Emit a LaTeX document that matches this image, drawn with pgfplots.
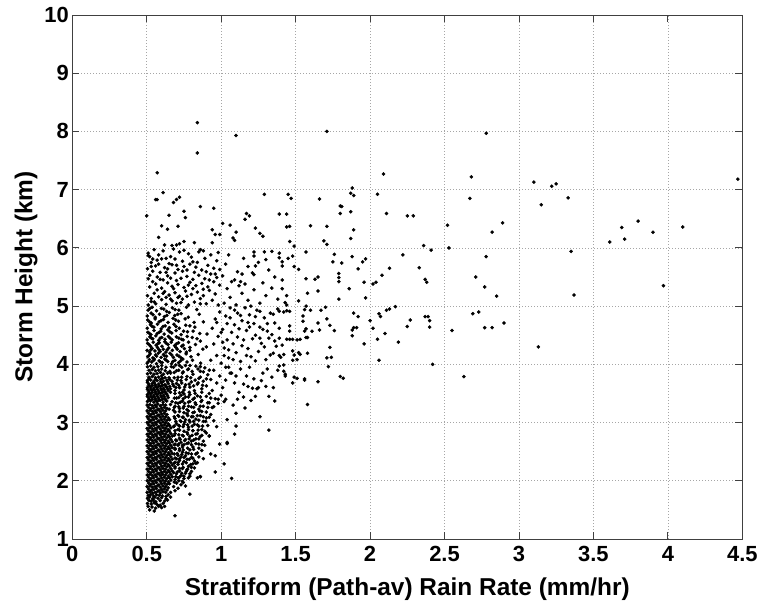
\documentclass[border=0pt]{standalone}
\usepackage{fontspec}
\setmainfont{Liberation Sans}
\usepackage{pgfplots}
\pgfplotsset{compat=1.18}
\begin{document}
\begin{tikzpicture}
\path[use as bounding box] (-72.3bp,-62bp) rectangle (685.7bp,539bp);
\begin{axis}[
  at={(0,0)}, anchor=south west,
  scale only axis, width=670bp, height=524bp,
  xmin=0, xmax=4.5, ymin=1, ymax=10,
  xtick={0,0.5,1,1.5,2,2.5,3,3.5,4,4.5}, ytick={1,2,3,4,5,6,7,8,9,10},
  /pgf/number format/assume math mode=true,
  ticklabel style={font=\fontsize{22}{24}\selectfont\bfseries},
  xticklabel style={yshift=-4bp},
  label style={font=\fontsize{24.5}{27}\selectfont\bfseries},
  xlabel={Stratiform (Path-av) Rain Rate (mm/hr)},
  ylabel={Storm Height (km)},
  xlabel style={yshift=-9bp},
  tick align=inside, major tick length=7bp,
  axis line style={black!75, line width=0.9bp},
  tick style={black!75, line width=0.9bp},
  grid=major,
  major grid style={gray!70, line width=0.7bp, dash pattern=on 0.8bp off 2.2bp},
]
\addplot[only marks, mark=*, mark size=1.6bp, mark options={fill=black, draw=none}] coordinates {
(0.503,1.80)(0.521,1.81)(0.538,1.79)(0.556,1.80)(0.574,1.82)(0.591,1.79)(0.609,1.81)(0.627,1.80)
(0.512,1.86)(0.529,1.84)(0.547,1.85)(0.565,1.87)(0.582,1.83)(0.600,1.85)(0.618,1.86)(0.636,1.84)
(0.503,1.90)(0.521,1.91)(0.538,1.89)(0.556,1.90)(0.574,1.92)(0.591,1.89)(0.609,1.91)(0.627,1.90)(0.645,1.88)
(0.512,1.96)(0.529,1.94)(0.547,1.95)(0.565,1.97)(0.582,1.93)(0.600,1.95)(0.618,1.96)(0.636,1.94)(0.653,1.95)
(0.503,2.00)(0.521,2.01)(0.538,1.99)(0.556,2.00)(0.574,2.02)(0.591,1.99)(0.609,2.01)(0.627,2.00)(0.645,1.98)(0.662,2.01)
(0.512,2.06)(0.529,2.04)(0.547,2.05)(0.565,2.07)(0.582,2.03)(0.600,2.05)(0.618,2.06)(0.636,2.04)(0.653,2.05)(0.671,2.07)
(0.503,2.10)(0.521,2.11)(0.538,2.09)(0.556,2.10)(0.574,2.12)(0.591,2.09)(0.609,2.11)(0.627,2.10)(0.645,2.08)(0.662,2.11)
(0.512,2.16)(0.529,2.14)(0.547,2.15)(0.565,2.17)(0.582,2.13)(0.600,2.15)(0.618,2.16)(0.636,2.14)(0.653,2.15)(0.671,2.17)
(0.503,2.20)(0.521,2.21)(0.538,2.19)(0.556,2.20)(0.574,2.22)(0.591,2.19)(0.609,2.21)(0.627,2.20)(0.645,2.18)(0.662,2.21)
(0.512,2.26)(0.529,2.24)(0.547,2.25)(0.565,2.27)(0.582,2.23)(0.600,2.25)(0.618,2.26)(0.636,2.24)(0.653,2.25)(0.671,2.27)
(0.503,2.30)(0.521,2.31)(0.538,2.29)(0.556,2.30)(0.574,2.32)(0.591,2.29)(0.609,2.31)(0.627,2.30)(0.645,2.28)(0.662,2.31)
(0.512,2.36)(0.529,2.34)(0.547,2.35)(0.565,2.37)(0.582,2.33)(0.600,2.35)(0.618,2.36)(0.636,2.34)(0.653,2.35)(0.671,2.37)
(0.503,2.40)(0.521,2.41)(0.538,2.39)(0.556,2.40)(0.574,2.42)(0.591,2.39)(0.609,2.41)(0.627,2.40)(0.645,2.38)(0.662,2.41)
(0.512,2.46)(0.529,2.44)(0.547,2.45)(0.565,2.47)(0.582,2.43)(0.600,2.45)(0.618,2.46)(0.636,2.44)(0.653,2.45)(0.671,2.47)
(0.503,2.50)(0.521,2.51)(0.538,2.49)(0.556,2.50)(0.574,2.52)(0.591,2.49)(0.609,2.51)(0.627,2.50)(0.645,2.48)(0.662,2.51)
(0.512,2.56)(0.529,2.54)(0.547,2.55)(0.565,2.57)(0.582,2.53)(0.600,2.55)(0.618,2.56)(0.636,2.54)(0.653,2.55)(0.671,2.57)
(0.503,2.60)(0.521,2.61)(0.538,2.59)(0.556,2.60)(0.574,2.62)(0.591,2.59)(0.609,2.61)(0.627,2.60)(0.645,2.58)(0.662,2.61)
(0.512,2.66)(0.529,2.64)(0.547,2.65)(0.565,2.67)(0.582,2.63)(0.600,2.65)(0.618,2.66)(0.636,2.64)(0.653,2.65)(0.671,2.67)
(0.503,2.70)(0.521,2.71)(0.538,2.69)(0.556,2.70)(0.574,2.72)(0.591,2.69)(0.609,2.71)(0.627,2.70)(0.645,2.68)(0.662,2.71)
(0.512,2.76)(0.529,2.74)(0.547,2.75)(0.565,2.77)(0.582,2.73)(0.600,2.75)(0.618,2.76)(0.636,2.74)(0.653,2.75)(0.671,2.77)
(0.503,2.80)(0.521,2.81)(0.538,2.79)(0.556,2.80)(0.574,2.82)(0.591,2.79)(0.609,2.81)(0.627,2.80)(0.645,2.78)(0.662,2.81)
(0.512,2.86)(0.529,2.84)(0.547,2.85)(0.565,2.87)(0.582,2.83)(0.600,2.85)(0.618,2.86)(0.636,2.84)(0.653,2.85)
(0.503,2.90)(0.521,2.91)(0.538,2.89)(0.556,2.90)(0.574,2.92)(0.591,2.89)(0.609,2.91)(0.627,2.90)(0.645,2.88)(0.662,2.91)
(0.512,2.96)(0.529,2.94)(0.547,2.95)(0.565,2.97)(0.582,2.93)(0.600,2.95)(0.618,2.96)(0.636,2.94)(0.653,2.95)
(0.503,3.00)(0.521,3.01)(0.538,2.99)(0.556,3.00)(0.574,3.02)(0.591,2.99)(0.609,3.01)(0.627,3.00)(0.645,2.98)
(0.512,3.06)(0.529,3.04)(0.547,3.05)(0.565,3.07)(0.582,3.03)(0.600,3.05)(0.618,3.06)(0.636,3.04)(0.653,3.05)
(0.503,3.10)(0.521,3.11)(0.538,3.09)(0.556,3.10)(0.574,3.12)(0.591,3.09)(0.609,3.11)(0.627,3.10)(0.645,3.08)
(0.512,3.16)(0.529,3.14)(0.547,3.15)(0.565,3.17)(0.582,3.13)(0.600,3.15)(0.618,3.16)(0.636,3.14)
(0.503,3.20)(0.521,3.21)(0.538,3.19)(0.556,3.20)(0.574,3.22)(0.591,3.19)(0.609,3.21)(0.627,3.20)
(0.512,3.26)(0.529,3.24)(0.547,3.25)(0.565,3.27)(0.582,3.23)(0.600,3.25)(0.618,3.26)(0.636,3.24)
(0.503,3.30)(0.521,3.31)(0.538,3.29)(0.556,3.30)(0.574,3.32)(0.591,3.29)(0.609,3.31)(0.627,3.30)
(0.52,1.50)(0.55,1.48)(0.56,1.53)(0.51,1.56)(0.535,1.55)(0.58,1.56)(0.60,1.54)(0.505,1.61)(0.53,1.60)(0.55,1.62)
(0.57,1.59)(0.61,1.61)(0.515,1.66)(0.53,1.65)(0.545,1.67)(0.56,1.64)(0.59,1.66)(0.62,1.65)(0.64,1.67)(0.505,1.70)
(0.52,1.72)(0.54,1.69)(0.555,1.72)(0.575,1.70)(0.60,1.71)(0.63,1.69)(0.51,1.75)(0.525,1.76)(0.545,1.74)(0.565,1.76)
(0.585,1.75)(0.605,1.74)(0.645,1.76)(0.66,1.72)(0.56,1.62)(0.59,1.58)(0.62,1.56)(0.63,1.73)
(0.66,1.80)(0.69,1.83)(0.68,1.90)(0.71,1.87)(0.70,1.96)(0.73,1.93)(0.74,1.99)(0.76,1.91)
(0.69,2.02)(0.71,2.05)(0.70,2.12)(0.73,2.09)(0.72,2.17)(0.75,2.04)(0.76,2.13)(0.74,2.21)(0.77,2.19)(0.79,2.08)
(0.80,2.16)(0.78,2.25)(0.69,2.24)(0.71,2.28)(0.82,2.22)(0.84,2.05)(0.81,2.29)(0.86,2.07)
(0.69,2.32)(0.70,2.38)(0.72,2.35)(0.71,2.44)(0.73,2.41)(0.74,2.49)(0.75,2.33)(0.76,2.43)(0.77,2.37)(0.78,2.47)
(0.79,2.53)(0.72,2.52)(0.69,2.56)(0.74,2.58)(0.80,2.40)(0.82,2.34)(0.83,2.46)(0.81,2.58)(0.85,2.41)(0.87,2.52)
(0.84,2.31)(0.88,2.38)
(0.69,2.63)(0.71,2.61)(0.70,2.69)(0.72,2.73)(0.73,2.66)(0.74,2.78)(0.75,2.62)(0.76,2.71)(0.77,2.83)(0.78,2.65)
(0.79,2.76)(0.80,2.68)(0.81,2.86)(0.69,2.81)(0.71,2.88)(0.83,2.72)(0.85,2.63)(0.84,2.81)(0.86,2.76)(0.88,2.68)
(0.90,2.82)(0.87,2.88)(0.92,2.77)(0.89,2.61)
(0.68,2.93)(0.70,2.98)(0.69,3.07)(0.72,2.94)(0.73,3.02)(0.71,3.12)(0.74,3.09)(0.75,2.97)(0.76,3.05)(0.77,3.15)
(0.78,2.92)(0.79,3.01)(0.80,3.10)(0.82,2.97)(0.83,3.06)(0.81,3.17)(0.85,2.94)(0.86,3.12)(0.88,3.02)(0.87,3.19)
(0.90,3.08)(0.91,2.95)(0.93,3.14)(0.95,3.03)(0.97,2.93)
(0.65,3.23)(0.66,3.31)(0.68,3.21)(0.67,3.36)(0.69,3.28)(0.70,3.42)(0.71,3.33)(0.72,3.24)(0.73,3.47)(0.74,3.37)
(0.75,3.28)(0.76,3.44)(0.77,3.22)(0.78,3.35)(0.79,3.48)(0.80,3.27)(0.81,3.40)(0.83,3.31)(0.84,3.46)(0.85,3.23)
(0.87,3.38)(0.88,3.28)(0.90,3.45)(0.92,3.34)(0.94,3.26)(0.96,3.41)(0.98,3.33)(1.00,3.47)(1.02,3.36)
(0.685,1.98)(0.715,2.00)(0.745,1.97)
(0.695,2.07)(0.72,2.06)(0.75,2.08)(0.78,2.05)
(0.68,2.14)(0.705,2.15)(0.735,2.13)(0.765,2.16)(0.79,2.12)
(0.69,2.22)(0.72,2.21)(0.745,2.23)(0.775,2.20)(0.80,2.23)
(0.685,2.30)(0.71,2.31)(0.74,2.29)(0.765,2.31)(0.795,2.28)(0.83,2.30)
(0.69,2.39)(0.72,2.38)(0.75,2.40)(0.785,2.37)(0.81,2.39)
(0.685,2.46)(0.705,2.47)(0.735,2.45)(0.765,2.48)(0.80,2.46)(0.84,2.48)
(0.69,2.54)(0.72,2.55)(0.745,2.53)(0.775,2.56)(0.815,2.54)(0.85,2.56)
(0.685,2.62)(0.715,2.63)(0.74,2.61)(0.77,2.64)(0.80,2.62)(0.83,2.64)(0.87,2.62)
(0.695,2.70)(0.725,2.71)(0.755,2.69)(0.785,2.72)(0.815,2.70)(0.85,2.72)
(0.685,2.78)(0.715,2.79)(0.745,2.77)(0.775,2.80)(0.805,2.78)(0.83,2.80)(0.87,2.78)
(0.69,2.86)(0.72,2.87)(0.75,2.85)(0.78,2.88)(0.81,2.86)(0.845,2.87)(0.89,2.85)
(0.685,2.94)(0.715,2.95)(0.745,2.93)(0.775,2.96)(0.805,2.94)(0.84,2.96)(0.875,2.94)
(0.695,3.02)(0.725,3.03)(0.755,3.01)(0.785,3.04)(0.815,3.02)(0.85,3.04)(0.895,3.02)
(0.685,3.10)(0.715,3.11)(0.745,3.09)(0.775,3.12)(0.81,3.10)(0.84,3.12)(0.88,3.10)(0.92,3.09)
(0.69,3.18)(0.72,3.19)(0.75,3.17)(0.78,3.20)(0.82,3.18)(0.855,3.20)(0.90,3.18)
(0.685,3.26)(0.715,3.27)(0.745,3.25)(0.78,3.28)(0.815,3.26)(0.86,3.28)(0.91,3.26)(0.95,3.27)
(0.695,3.34)(0.725,3.35)(0.755,3.33)(0.79,3.36)(0.825,3.34)(0.865,3.36)(0.91,3.34)
(0.685,3.42)(0.715,3.43)(0.745,3.41)(0.78,3.44)(0.82,3.42)(0.86,3.44)(0.93,3.42)(0.98,3.40)
(0.69,3.50)(0.72,3.51)(0.75,3.49)(0.785,3.52)(0.825,3.50)(0.87,3.52)(0.92,3.50)
(0.505,3.36)(0.525,3.37)(0.548,3.35)(0.57,3.36)(0.59,3.38)(0.61,3.35)(0.635,3.37)
(0.515,3.42)(0.537,3.43)(0.558,3.41)(0.58,3.42)(0.60,3.44)(0.622,3.41)(0.645,3.43)
(0.505,3.48)(0.527,3.49)(0.548,3.47)(0.57,3.48)(0.592,3.50)(0.613,3.47)(0.635,3.49)
(0.515,3.54)(0.537,3.55)(0.558,3.53)(0.58,3.54)(0.60,3.56)(0.622,3.53)(0.645,3.55)(0.66,3.52)
(0.505,3.60)(0.527,3.61)(0.548,3.59)(0.57,3.60)(0.592,3.62)(0.613,3.59)(0.635,3.61)
(0.515,3.66)(0.537,3.67)(0.558,3.65)(0.58,3.66)(0.60,3.68)(0.622,3.65)(0.645,3.67)
(0.505,3.72)(0.527,3.73)(0.548,3.71)(0.57,3.72)(0.592,3.74)(0.613,3.71)(0.635,3.73)
(0.515,3.78)(0.537,3.79)(0.558,3.77)(0.58,3.78)(0.60,3.80)(0.622,3.77)
(0.505,3.84)(0.527,3.85)(0.548,3.83)(0.57,3.84)(0.592,3.86)(0.613,3.83)(0.64,3.85)
(0.515,3.90)(0.537,3.91)(0.558,3.89)(0.58,3.90)(0.60,3.92)(0.625,3.89)
(0.505,3.96)(0.527,3.97)(0.548,3.95)(0.575,3.96)(0.60,3.98)(0.63,3.95)
(0.515,3.39)(0.537,3.395)(0.56,3.385)(0.582,3.39)(0.605,3.40)(0.628,3.385)
(0.505,3.45)(0.527,3.455)(0.55,3.445)(0.572,3.45)(0.595,3.46)(0.617,3.445)(0.64,3.46)
(0.515,3.51)(0.537,3.515)(0.56,3.505)(0.582,3.51)(0.605,3.52)(0.628,3.505)
(0.505,3.57)(0.527,3.575)(0.55,3.565)(0.572,3.57)(0.595,3.58)(0.617,3.565)(0.64,3.58)
(0.515,3.63)(0.537,3.635)(0.56,3.625)(0.582,3.63)(0.605,3.64)(0.628,3.625)
(0.505,3.69)(0.55,3.685)(0.595,3.70)(0.64,3.70)
(0.515,3.75)(0.56,3.745)(0.605,3.76)
(0.66,3.58)(0.68,3.63)(0.67,3.71)(0.69,3.55)(0.70,3.67)(0.71,3.78)(0.72,3.60)(0.73,3.72)(0.74,3.85)(0.75,3.56)
(0.76,3.65)(0.77,3.79)(0.78,3.92)(0.79,3.61)(0.80,3.70)(0.81,3.83)(0.82,3.55)(0.83,3.97)(0.84,3.66)(0.85,3.76)
(0.86,3.88)(0.87,3.58)(0.88,3.71)(0.89,3.94)(0.90,3.63)(0.91,3.82)(0.93,3.74)(0.94,3.55)(0.95,3.90)(0.97,3.68)
(0.99,3.80)(1.01,3.60)(1.03,3.73)(1.05,3.95)(1.07,3.85)(0.66,3.85)(0.68,3.95)(0.70,3.89)(0.72,3.98)(0.65,3.77)
(0.74,3.52)(0.76,3.98)
(0.655,3.62)(0.675,3.66)(0.695,3.60)(0.715,3.64)(0.735,3.68)(0.755,3.61)(0.785,3.66)(0.815,3.63)(0.845,3.68)(0.875,3.64)
(0.655,3.74)(0.685,3.77)(0.705,3.73)(0.735,3.78)(0.765,3.74)(0.795,3.77)(0.825,3.73)(0.86,3.78)(0.90,3.75)
(0.655,3.88)(0.685,3.86)(0.715,3.90)(0.745,3.87)(0.775,3.91)(0.805,3.88)(0.845,3.92)(0.88,3.87)(0.92,3.90)
(0.665,3.96)(0.695,3.99)(0.735,3.95)(0.79,3.98)(0.86,3.96)
(1.04,3.05)(1.08,3.30)(1.12,3.52)(1.15,3.44)(1.18,3.62)(1.20,3.38)(1.22,3.75)(1.24,3.58)(1.28,3.85)
(1.30,3.62)(1.32,3.45)(1.34,3.78)(1.38,3.90)(1.32,2.87)(1.13,3.92)(1.17,3.80)(1.21,3.59)(1.25,3.60)(1.09,3.68)
(1.06,3.85)(1.03,3.40)
(1.01,4.38)(1.05,4.25)(1.08,4.08)(1.11,4.47)(1.14,4.32)(1.17,4.15)(1.19,4.64)(1.23,4.06)(1.26,4.45)(1.29,4.30)
(1.33,4.16)(1.36,4.40)(1.02,4.15)(1.06,4.80)(1.09,4.93)(1.13,4.84)(1.18,4.72)(1.23,4.82)(1.31,4.70)(1.35,4.86)
(1.03,3.95)(1.10,3.80)(1.15,3.66)(1.19,3.95)(1.27,3.72)(1.31,3.92)(1.35,3.60)(1.11,3.40)(1.23,3.45)(1.16,3.25)
(0.503,4.02)(0.518,4.08)(0.534,4.04)(0.551,4.09)(0.566,4.01)(0.583,4.06)(0.604,4.03)(0.622,4.09)(0.641,4.05)(0.667,4.01)
(0.689,4.07)(0.714,4.03)(0.742,4.09)(0.771,4.04)(0.808,4.07)(0.862,4.02)
(0.507,4.13)(0.523,4.18)(0.541,4.11)(0.559,4.16)(0.577,4.19)(0.596,4.12)(0.613,4.17)(0.633,4.14)(0.656,4.19)(0.679,4.12)
(0.703,4.16)(0.731,4.11)(0.764,4.18)(0.797,4.13)(0.846,4.17)
(0.502,4.24)(0.519,4.21)(0.537,4.27)(0.555,4.23)(0.572,4.29)(0.591,4.22)(0.611,4.26)(0.629,4.21)(0.648,4.28)(0.672,4.24)
(0.696,4.29)(0.724,4.22)(0.753,4.27)(0.789,4.24)(0.877,4.26)
(0.506,4.36)(0.526,4.31)(0.544,4.38)(0.563,4.33)(0.584,4.37)(0.602,4.31)(0.621,4.39)(0.643,4.34)(0.664,4.38)(0.687,4.32)
(0.713,4.37)(0.745,4.33)(0.781,4.38)(0.827,4.34)
(0.503,4.42)(0.521,4.47)(0.54,4.44)(0.561,4.49)(0.58,4.41)(0.601,4.46)(0.623,4.43)(0.646,4.48)(0.671,4.42)(0.699,4.47)
(0.734,4.43)(0.772,4.48)(0.838,4.44)
(0.508,4.55)(0.528,4.51)(0.549,4.58)(0.571,4.53)(0.594,4.57)(0.617,4.52)(0.642,4.59)(0.668,4.54)(0.697,4.58)(0.731,4.51)
(0.774,4.56)(0.856,4.53)
(0.504,4.62)(0.525,4.68)(0.548,4.64)(0.572,4.69)(0.597,4.61)(0.624,4.66)(0.652,4.63)(0.683,4.69)(0.718,4.62)(0.762,4.67)
(0.823,4.64)
(0.507,4.76)(0.531,4.71)(0.556,4.78)(0.584,4.73)(0.612,4.77)(0.643,4.72)(0.677,4.79)(0.714,4.74)(0.758,4.78)(0.818,4.72)
(0.503,4.83)(0.529,4.88)(0.557,4.81)(0.586,4.86)(0.618,4.82)(0.651,4.89)(0.688,4.84)(0.731,4.87)(0.779,4.81)(0.852,4.86)
(0.509,4.93)(0.536,4.98)(0.566,4.92)(0.598,4.96)(0.633,4.91)(0.672,4.97)(0.716,4.93)(0.767,4.98)(0.836,4.94)
(0.512,4.05)(0.547,4.07)(0.593,4.04)(0.631,4.07)(0.676,4.05)(0.728,4.06)(0.514,4.15)(0.566,4.14)(0.618,4.15)(0.668,4.16)
(0.717,4.14)(0.528,4.25)(0.582,4.25)(0.637,4.25)(0.705,4.26)(0.766,4.21)(0.515,4.34)(0.572,4.35)(0.632,4.36)(0.698,4.35)
(0.531,4.45)(0.59,4.45)(0.657,4.45)(0.716,4.45)(0.806,4.46)(0.518,4.53)(0.583,4.55)(0.654,4.56)(0.747,4.57)(0.537,4.65)
(0.61,4.65)(0.697,4.65)(0.79,4.66)(0.519,4.73)(0.597,4.75)(0.695,4.76)(0.542,4.85)(0.635,4.84)(0.708,4.86)(0.52,4.96)
(0.615,4.95)(0.69,4.94)(0.745,4.42)(0.735,4.31)(0.79,4.29)(0.812,4.57)(0.86,4.40)(0.88,4.73)(0.905,4.52)(0.90,4.30)
(0.93,4.07)(0.97,4.15)(1.00,4.02)(1.02,4.28)(1.05,4.11)(1.08,4.35)(1.10,4.20)(1.13,4.05)(1.15,4.42)(1.18,4.27)
(1.20,4.13)(1.23,4.50)(1.25,4.22)(1.27,4.36)(1.30,4.08)(1.32,4.45)(1.35,4.19)(1.37,4.31)(1.40,4.12)(0.95,4.35)
(0.98,4.48)(1.01,4.60)(1.04,4.42)(1.07,4.55)(1.09,4.68)(1.12,4.61)(1.14,4.75)(1.17,4.58)(1.19,4.85)(1.22,4.70)
(1.24,4.93)(1.26,4.64)(1.29,4.80)(1.31,4.57)(1.33,4.88)(1.36,4.71)(1.38,4.95)(0.94,4.62)(0.96,4.78)(0.99,4.90)
(1.03,4.83)(1.06,4.97)(1.11,4.88)(1.16,4.97)(1.21,4.44)(1.28,4.60)(0.97,4.72)(1.00,4.55)(1.04,4.70)(1.34,4.51)
(1.26,4.91)(1.39,4.62)
(0.51,5.91)(0.51,5.87)(0.52,5.85)(0.54,5.81)(0.57,5.79)(0.60,5.81)(0.63,5.82)(0.66,5.85)(0.69,5.81)(0.80,5.84)
(0.81,5.76)(0.83,5.67)(0.85,5.93)(0.72,5.93)(0.75,5.96)(0.78,5.90)
(0.54,5.60)(0.52,5.53)(0.59,5.58)(0.64,5.52)(0.69,5.57)(0.73,5.48)
(0.51,5.02)(0.53,5.08)(0.56,5.04)(0.60,5.11)(0.63,5.03)(0.67,5.09)(0.70,5.05)(0.74,5.12)(0.78,5.02)(0.82,5.07)
(0.86,5.13)(0.90,5.04)(0.94,5.10)(0.98,5.02)
(0.505,5.18)(0.55,5.22)(0.58,5.16)(0.62,5.25)(0.65,5.19)(0.69,5.23)(0.72,5.17)(0.76,5.26)(0.80,5.20)(0.84,5.24)
(0.88,5.18)(0.92,5.27)(0.96,5.21)
(0.52,5.33)(0.56,5.38)(0.60,5.31)(0.64,5.40)(0.67,5.34)(0.71,5.37)(0.75,5.32)(0.79,5.41)(0.83,5.35)(0.87,5.39)
(0.91,5.33)(0.95,5.42)(0.99,5.36)
(0.51,5.47)(0.57,5.50)(0.61,5.45)(0.66,5.48)(0.77,5.51)(0.81,5.46)(0.85,5.53)(0.89,5.47)(0.93,5.55)(0.97,5.49)
(0.505,5.64)(0.56,5.69)(0.62,5.66)(0.67,5.71)(0.71,5.63)(0.75,5.68)(0.79,5.72)(0.87,5.62)(0.91,5.70)(0.95,5.65)
(0.53,5.75)(0.58,5.72)(0.61,5.95)(0.65,5.73)(0.68,5.98)(0.55,5.97)(0.74,5.77)(0.89,5.82)(0.93,5.88)(0.97,5.78)
(0.53,5.13)(0.57,5.28)(0.63,5.15)(0.68,5.30)(0.73,5.06)(0.77,5.17)(0.81,5.30)(0.86,5.04)(0.54,5.42)(0.59,5.46)
(0.63,5.58)(0.70,5.44)(0.74,5.60)(0.78,5.36)(0.82,5.58)(0.88,5.29)(0.92,5.45)(0.96,5.55)(0.53,5.68)(0.58,5.88)
(0.64,5.64)(0.70,5.70)(0.77,5.62)(0.84,5.75)(0.90,5.59)(0.98,5.92)(0.55,5.07)(0.61,5.22)(0.66,5.12)(0.71,5.15)
(1.02,5.05)(1.06,5.15)(1.10,5.02)(1.14,5.22)(1.18,5.10)(1.22,5.28)(1.26,5.05)(1.30,5.18)(1.34,5.31)(1.38,5.12)
(1.04,5.30)(1.12,5.35)(1.20,5.00)(1.28,5.40)(1.36,5.50)(1.25,5.75)(1.05,5.88)(1.15,5.82)(1.32,5.62)(1.01,5.52)
(1.34,5.94)(1.30,5.80)(1.29,5.93)(1.22,5.93)(1.22,5.86)(1.18,5.68)(1.21,5.57)(1.22,5.54)(1.23,5.69)(1.11,5.59)
(1.14,5.55)(1.13,5.42)(1.16,5.38)(1.03,5.72)(0.99,5.63)(1.07,5.42)(1.09,5.45)
(0.60,6.38)(0.64,6.32)(0.71,6.37)(0.58,6.18)(0.62,6.05)(0.67,6.04)(0.70,6.05)(0.72,6.07)(0.75,6.11)(0.82,6.09)
(0.86,5.97)(0.88,5.95)(0.94,6.31)(0.96,6.23)(0.94,6.09)(0.99,6.23)(1.01,6.42)(1.06,6.39)(1.10,6.27)(1.08,6.17)
(1.09,6.13)(1.16,6.49)(1.17,6.59)(1.19,6.55)(1.23,6.34)(1.26,6.25)(1.28,6.20)
(0.56,6.83)(0.57,6.83)(0.61,6.95)(0.68,6.78)(0.70,6.83)(0.72,6.87)(0.50,6.55)(0.65,6.56)(0.75,6.63)(0.76,6.52)
(0.86,6.71)(0.95,6.68)(0.57,7.29)(0.84,8.15)(0.84,7.63)(1.10,7.93)(1.71,8.00)(2.78,7.97)
(2.09,7.27)(2.68,7.22)(3.10,7.13)(3.22,7.06)(3.25,7.10)(4.47,7.18)
(1.29,6.92)(1.45,6.92)(1.47,6.85)(1.66,6.84)(1.88,7.03)(1.87,6.94)(1.89,6.90)(2.05,6.92)(2.67,6.85)(3.15,6.74)(3.33,6.86)
(1.80,6.72)(1.81,6.71)(1.80,6.59)(1.87,6.62)(2.11,6.59)(2.25,6.55)(2.29,6.55)(1.39,6.58)(1.44,6.58)
(1.44,6.36)(1.46,6.37)(1.60,6.38)(1.71,6.37)(1.89,6.31)(1.87,6.16)(1.69,6.12)(1.71,6.06)(1.46,6.11)(1.49,6.03)
(2.52,6.39)(2.89,6.43)(2.82,6.27)(2.53,6.00)(2.36,6.04)(2.41,5.96)(2.22,5.88)(2.78,5.85)
(3.35,5.94)(3.37,5.19)(3.61,6.10)(3.69,6.35)(3.71,6.15)(3.80,6.46)(3.90,6.27)(3.97,5.35)(4.10,6.36)
(1.39,5.91)(1.39,5.83)(1.41,5.76)(1.41,5.69)(1.45,5.82)(1.48,5.86)(1.49,5.68)(1.52,5.63)(1.57,5.93)(1.57,5.47)
(1.63,5.46)(1.65,5.50)(1.65,5.26)(1.58,5.22)(1.41,5.45)(1.41,5.30)(1.44,5.18)(1.43,5.06)(1.44,5.02)(1.52,5.09)
(1.79,5.12)(1.86,5.30)(1.97,5.14)(1.96,5.41)(1.76,5.89)(1.88,5.85)(1.75,5.76)(1.81,5.74)(1.95,5.76)(1.97,5.81)
(1.92,5.64)(1.79,5.56)(1.79,5.49)(1.79,5.42)
(1.39,4.91)(1.42,4.90)(1.44,4.92)(1.46,4.91)(1.56,4.94)(1.57,5.00)(1.60,4.93)(1.67,4.93)(1.70,4.98)
(1.55,4.83)(1.55,4.74)(1.56,4.57)(1.57,4.61)(1.61,4.57)(1.65,4.71)(1.66,4.59)(1.71,4.78)(1.73,4.67)(1.76,4.58)
(1.89,4.88)(1.92,4.82)(1.88,4.59)(1.89,4.63)(1.91,4.63)(1.88,4.49)(1.96,4.35)
(1.39,4.45)(1.41,4.33)(1.39,4.15)(1.42,4.17)(1.39,3.97)(1.42,3.99)
(1.44,4.43)(1.46,4.43)(1.46,4.66)(1.46,4.57)(1.48,4.43)(1.51,4.42)(1.53,4.43)(1.57,4.46)(1.58,4.46)
(1.48,4.23)(1.49,4.16)(1.51,4.08)(1.48,4.07)(1.52,4.20)(1.53,4.17)(1.58,4.19)(1.73,4.29)(1.71,4.11)(1.74,4.12)
(1.72,3.96)(1.80,3.79)(1.82,3.76)(1.49,3.78)(1.51,3.76)(1.56,3.75)(1.43,3.83)(1.43,3.80)(1.42,3.88)(1.48,3.68)
(1.56,3.73)(1.58,3.31)(1.65,3.70)(1.26,3.10)(1.36,3.37)
(1.07,2.04)(0.69,1.40)(0.79,1.77)(0.96,2.15)(1.10,2.94)(1.09,2.80)(1.04,2.64)(1.02,2.29)(1.04,2.66)(0.99,2.63)
(0.92,2.77)(0.96,2.43)(0.93,2.46)(0.86,2.07)(1.10,3.16)
(2.00,4.75)(2.02,4.62)(2.05,4.43)(2.06,4.07)(2.06,4.87)(2.07,4.82)(2.10,4.53)(2.11,4.93)(2.13,4.95)(2.17,4.99)
(2.19,4.38)(2.25,4.65)(2.27,4.76)(2.37,4.82)(2.39,4.82)(2.40,4.75)(2.40,4.64)(2.42,4.00)(2.55,4.58)(2.63,3.79)
(2.69,4.87)(2.73,4.90)(2.77,4.63)(2.82,4.63)(2.90,4.71)(3.13,4.30)
(2.85,5.17)(2.77,5.33)(2.71,5.50)(2.02,5.38)(2.04,5.41)(2.08,5.53)(2.13,5.65)(2.37,5.46)(2.38,5.41)(2.33,5.66)
};
\end{axis}
\end{tikzpicture}
\end{document}
